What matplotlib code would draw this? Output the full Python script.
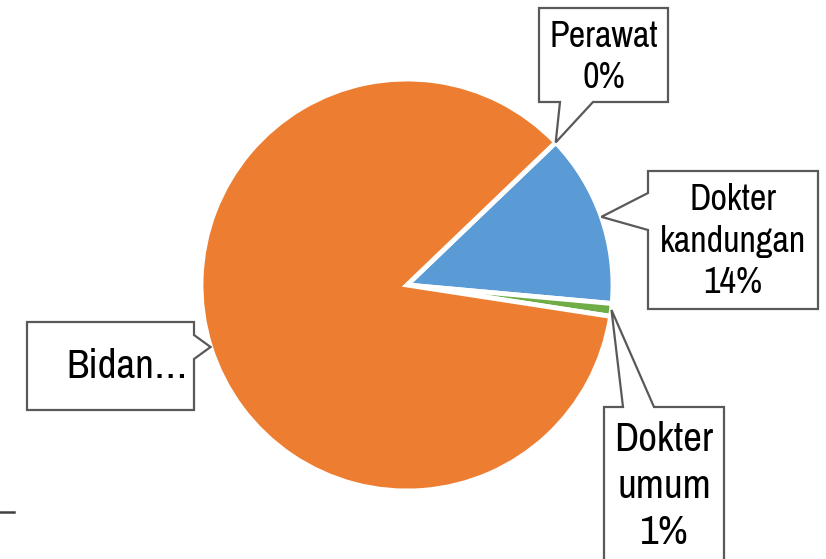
import numpy as np
import matplotlib.pyplot as plt
from matplotlib.patches import Polygon

# --- Data ---
kategori = ['Perawat', 'Dokter\nkandungan', 'Dokter\numum', 'Bidan']
nilai = [0.0, 13.6, 1.0, 85.4]
warna = ['#A5A5A5', '#5B9BD5', '#70AD47', '#ED7D31']

W, H = 826, 559
plt.rcParams['font.family'] = ['Archivo Narrow', 'DejaVu Sans']
plt.rcParams['font.stretch'] = 'condensed'

fig = plt.figure(figsize=(W / 100, H / 100), dpi=100)
ax = fig.add_axes([0, 0, 1, 1])

# pusat & jari-jari pie dalam piksel (y ke atas)
cx, cy, R = 407, H - 285, 206
wedges, _ = ax.pie(nilai, colors=warna, startangle=43.8, counterclock=False,
                   center=(cx, cy), radius=R,
                   wedgeprops=dict(edgecolor='white', linewidth=3.5))
ax.set_xlim(0, W)
ax.set_ylim(0, H)
ax.set_aspect('equal')
ax.axis('off')


def img(p):
    return (p[0], H - p[1])


def callout(box, side, base, tip, text, fs, ty=None, tx=None, ls=1.3):
    x0, y0, x1, y1 = box
    b0, b1 = base
    if side == 'bottom':
        pts = [(x0, y0), (x1, y0), (x1, y1), (b1, y1), None, (b0, y1), (x0, y1)]
    elif side == 'left':
        pts = [(x0, y0), (x1, y0), (x1, y1), (x0, y1), (x0, b1), None, (x0, b0)]
    elif side == 'top':
        pts = [(x0, y0), (b0, y0), None, (b1, y0), (x1, y0), (x1, y1), (x0, y1)]
    else:
        pts = [(x0, y0), (x1, y0), (x1, b0), None, (x1, b1), (x1, y1), (x0, y1)]
    pts = [img(p) if p is not None else tip for p in pts]
    ax.add_patch(Polygon(pts, closed=True, facecolor='white', edgecolor='#595959',
                         linewidth=1.6, zorder=5, clip_on=False))
    if tx is None:
        tx = (x0 + x1) / 2
    if ty is None:
        ty = (y0 + y1) / 2
    ax.text(tx, H - ty, text, ha='center', va='center', fontsize=fs,
            linespacing=ls, color='black', zorder=6)


def ujung(w):
    a = np.deg2rad((w.theta1 + w.theta2) / 2)
    return (cx + R * np.cos(a), cy + R * np.sin(a))


persen = [f'{round(v)}%' for v in nilai]

callout((539, 8, 668, 102), 'bottom', (560, 593), ujung(wedges[0]),
        f'{kategori[0]}\n{persen[0]}', 26, ty=57)
callout((648, 171, 818, 309), 'left', (193, 230), ujung(wedges[1]),
        f'{kategori[1]}\n{persen[1]}', 26, ty=241)
callout((604, 407, 724, 580), 'top', (623, 654), ujung(wedges[2]),
        f'{kategori[2]}\n{persen[2]}', 29.5, ty=486, ls=1.32)
callout((27, 322, 194, 410), 'right', (335, 359), ujung(wedges[3]),
        'Bidan…', 29.5, ty=366, tx=127)

# garis kecil di kiri bawah
ax.plot([0, 14], [H - 512, H - 512], color='#404040', linewidth=1.8, clip_on=False)

fig.savefig('out.png', dpi=100)
